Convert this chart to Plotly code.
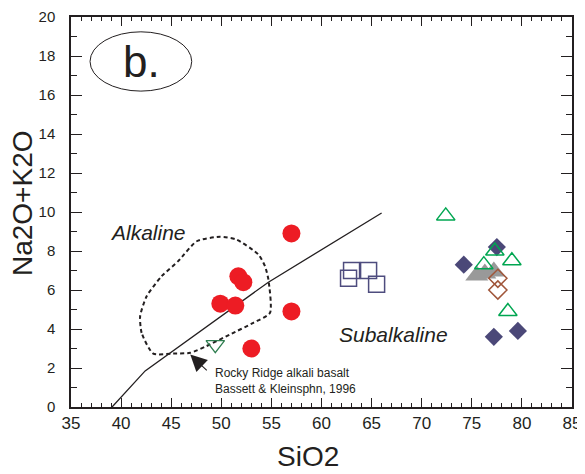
import plotly.graph_objects as go

# ---- data ----
red_x = [57.0, 51.7, 52.2, 49.9, 51.4, 57.0, 53.0]
red_y = [8.9, 6.7, 6.4, 5.3, 5.2, 4.9, 3.0]

square_x = [62.7, 63.0, 64.7, 65.5]
square_y = [6.6, 7.0, 7.0, 6.3]

navy_dia_x = [77.5, 74.2, 77.2, 79.6]
navy_dia_y = [8.2, 7.3, 3.6, 3.9]

gray_tri_x = [75.5, 76.3, 77.2]
gray_tri_y = [6.75, 6.85, 6.95]

brown_dia_x = [77.6, 77.6]
brown_dia_y = [6.6, 6.0]

green_tri_x = [72.4, 77.3, 76.2, 79.0, 78.6]
green_tri_y = [9.8, 8.0, 7.3, 7.5, 4.9]

rocky_x = [49.4]
rocky_y = [3.2]

# alkaline / subalkaline dividing line
div_x = [39.1, 42.4, 54.7, 66.0]
div_y = [0.0, 1.85, 6.4, 9.95]

# Rocky Ridge alkali basalt field (dashed outline)
field_x = [43.2, 42.05, 41.9, 42.55, 44.05, 45.7, 47.55, 49.87, 51.5, 53.7,
           54.36, 54.7, 54.86, 53.2, 50.87, 48.5, 46.9, 45.2, 43.2]
field_y = [2.74, 3.8, 4.66, 5.68, 6.71, 7.48, 8.5, 8.73, 8.59, 7.82,
           7.22, 6.54, 4.83, 4.32, 3.72, 3.12, 2.78, 2.74, 2.74]

FONT = "Liberation Sans, Arial, sans-serif"
TXT = "#231f20"

fig = go.Figure()

fig.add_trace(go.Scatter(x=field_x, y=field_y, mode="lines",
                         line=dict(color=TXT, width=2, dash="4px,3px", shape="spline", smoothing=0.6),
                         hoverinfo="skip"))
fig.add_trace(go.Scatter(x=div_x, y=div_y, mode="lines",
                         line=dict(color=TXT, width=1.3), hoverinfo="skip"))

fig.add_trace(go.Scatter(x=red_x, y=red_y, mode="markers",
                         marker=dict(symbol="circle", size=18, color="#ed1c24", line=dict(width=0))))
fig.add_trace(go.Scatter(x=square_x, y=square_y, mode="markers",
                         marker=dict(symbol="square-open", size=16, color="#4e4c7e", line=dict(width=1.5))))
fig.add_trace(go.Scatter(x=navy_dia_x, y=navy_dia_y, mode="markers",
                         marker=dict(symbol="diamond", size=14, color="#4b4878", line=dict(width=0))))
fig.add_trace(go.Scatter(x=gray_tri_x, y=gray_tri_y, mode="markers",
                         marker=dict(symbol="triangle-up", size=20, color="#999999", line=dict(width=0))))
fig.add_trace(go.Scatter(x=brown_dia_x, y=brown_dia_y, mode="markers",
                         marker=dict(symbol="diamond-open", size=14, color="#a0563a", line=dict(width=1.5))))
fig.add_trace(go.Scatter(x=green_tri_x, y=green_tri_y, mode="markers",
                         marker=dict(symbol="triangle-up-open", size=16, color="#00a651", line=dict(width=1.5))))
fig.add_trace(go.Scatter(x=rocky_x, y=rocky_y, mode="markers",
                         marker=dict(symbol="triangle-down-open", size=16, color="#2e7d4f", line=dict(width=1.3))))

fig.add_shape(type="circle", xref="x", yref="y", x0=36.9, x1=47.05, y0=16.2, y1=19.24,
              line=dict(color=TXT, width=1))

fig.add_annotation(x=42.0, y=17.7, text="b.", showarrow=False,
                   font=dict(family=FONT, size=44, color=TXT))
fig.add_annotation(x=42.7, y=8.95, text="Alkaline", showarrow=False,
                   font=dict(family=FONT, size=21, color=TXT, style="italic"))
fig.add_annotation(x=67.2, y=3.72, text="Subalkaline", showarrow=False,
                   font=dict(family=FONT, size=21, color=TXT, style="italic"))
fig.add_annotation(x=49.2, y=1.33, text="Rocky Ridge alkali basalt<br>Bassett & Kleinsphn, 1996",
                   showarrow=False, xanchor="left", align="left",
                   font=dict(family=FONT, size=12, color=TXT))
fig.add_annotation(x=46.9, y=2.69, ax=48.7, ay=1.8, xref="x", yref="y", axref="x", ayref="y",
                   text="", showarrow=True, arrowhead=2, arrowsize=3, arrowwidth=1.1,
                   arrowcolor=TXT)

# axis titles placed as annotations (paper coords relative to plot area)
fig.add_annotation(xref="paper", yref="paper", x=0.473, y=-0.127, text="SiO2",
                   showarrow=False, xanchor="center", yanchor="middle",
                   font=dict(family=FONT, size=28, color=TXT))
fig.add_annotation(xref="paper", yref="paper", x=-0.097, y=0.524, text="Na2O+K2O",
                   textangle=-90, showarrow=False, xanchor="center", yanchor="middle",
                   font=dict(family=FONT, size=28, color=TXT))

axis_common = dict(showline=True, linecolor=TXT, linewidth=1.5, mirror="allticks",
                   ticks="inside", tickcolor=TXT, showgrid=False, zeroline=False,
                   automargin=False)

fig.update_xaxes(range=[35, 85], dtick=5, tick0=35, ticklen=9, tickwidth=1,
                 tickfont=dict(family=FONT, size=17, color=TXT),
                 minor=dict(dtick=1, ticks="inside", ticklen=4, tickcolor=TXT, showgrid=False),
                 **axis_common)
fig.update_yaxes(range=[0, 20], dtick=2, tick0=0, ticklen=11, tickwidth=1,
                 tickfont=dict(family=FONT, size=15, color=TXT), ticklabelstandoff=11,
                 minor=dict(dtick=1, ticks="inside", ticklen=6, tickcolor=TXT, showgrid=False),
                 **axis_common)

# page body has an 8px margin, so the figure is sized/margined to compensate
fig.update_layout(width=577, height=466, showlegend=False,
                  margin=dict(l=63, r=13, t=9, b=67, autoexpand=False),
                  plot_bgcolor="white", paper_bgcolor="white",
                  font=dict(family=FONT, color=TXT))

fig.write_html("out.html")
